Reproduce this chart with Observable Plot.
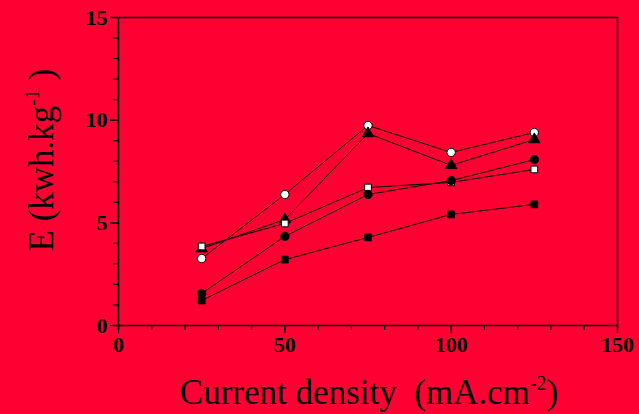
<!DOCTYPE html>
<html>
<head>
<meta charset="utf-8">
<script src="https://cdn.jsdelivr.net/npm/d3@7"></script>
<script src="https://cdn.jsdelivr.net/npm/@observablehq/plot@0.6"></script>
<style>
  html, body { margin: 0; padding: 0; background: #FF0033; }
  svg { display: block; }
</style>
</head>
<body>
<div id="chart"></div>
<script>
// Data
const currentDensity = [25, 50, 75, 100, 125];
const seriesNames = ["openCircle", "filledTriangle", "openSquare", "filledCircle", "filledSquare"];
const openCircle     = [3.26, 6.38, 9.74, 8.43, 9.40];
const filledTriangle = [3.75, 5.16, 9.35, 7.80, 9.06];
const openSquare     = [3.85, 4.97, 6.72, 6.97, 7.60];
const filledCircle   = [1.56, 4.34, 6.38, 7.06, 8.08];
const filledSquare   = [1.22, 3.21, 4.29, 5.41, 5.90];
const xMajorTicks = [0, 50, 100, 150];
const yMajorTicks = [0, 5, 10, 15];

const seriesValues = [openCircle, filledTriangle, openSquare, filledCircle, filledSquare];
const rows = [];
seriesNames.forEach((name, i) => {
  currentDensity.forEach((x, j) => rows.push({series: name, x, y: seriesValues[i][j]}));
});

const styles = {
  openCircle:     {symbol: "circle",   fill: "white", r: 4.2},
  filledTriangle: {symbol: "triangle", fill: "black", r: 4.2},
  openSquare:     {symbol: "square",   fill: "white", r: 3.8},
  filledCircle:   {symbol: "circle",   fill: "black", r: 4.2},
  filledSquare:   {symbol: "square",   fill: "black", r: 3.8}
};

const dots = seriesNames.map(name => Plot.dot(rows.filter(d => d.series === name), {
  x: "x", y: "y", symbol: styles[name].symbol, fill: styles[name].fill,
  stroke: "black", strokeWidth: 1, r: styles[name].r
}));

const tickFont = {fontSize: 22, fontWeight: "bold"};

const svg = Plot.plot({
  width: 639,
  height: 414,
  marginLeft: 118,
  marginRight: 22,
  marginTop: 17,
  marginBottom: 89,
  style: {background: "#FF0033", color: "black", fontSize: "22px", fontFamily: "'Times New Roman', 'Liberation Serif', Times, serif", overflow: "visible"},
  x: {domain: [0, 150], label: null},
  y: {domain: [0, 15], label: null},
  marks: [
    Plot.axisX({ticks: d3.range(0, 151, 10), tickSize: 5, tickFormat: () => "", label: null, strokeWidth: 1.3}),
    Plot.axisX({ticks: xMajorTicks, tickSize: 8, tickPadding: 3, label: null, strokeWidth: 1.3, ...tickFont}),
    Plot.axisY({ticks: d3.range(0, 16, 1), tickSize: 5, tickFormat: () => "", label: null, strokeWidth: 1.3}),
    Plot.axisY({ticks: yMajorTicks, tickSize: 8, tickPadding: 3, label: null, strokeWidth: 1.3, ...tickFont}),
    Plot.frame({stroke: "black", strokeWidth: 1.5}),
    Plot.line(rows, {x: "x", y: "y", z: "series", stroke: "black", strokeWidth: 1}),
    ...dots
  ]
});

const s = d3.select(svg);
s.selectAll("g[aria-label$='tick label']").attr("font-size", 22).attr("font-weight", "bold");

const xl = s.append("text")
  .attr("x", 369).attr("y", 404)
  .attr("text-anchor", "middle")
  .attr("font-size", 35)
  .attr("font-weight", "normal")
  .style("white-space", "pre")
  .attr("fill", "black");
xl.append("tspan").text("Current density  (mA.cm");
xl.append("tspan").attr("dy", -14).attr("font-size", 20).text("-2");
xl.append("tspan").attr("dy", 14).text(")");

const yl = s.append("text")
  .attr("transform", "translate(53,160) rotate(-90)")
  .attr("text-anchor", "middle")
  .attr("font-size", 35)
  .attr("font-weight", "normal")
  .style("white-space", "pre")
  .attr("fill", "black");
yl.append("tspan").text("E (kwh.kg");
yl.append("tspan").attr("dy", -14).attr("font-size", 20).text("-1");
yl.append("tspan").attr("dy", 14).text(" )");

document.getElementById("chart").appendChild(svg);
</script>
</body>
</html>
